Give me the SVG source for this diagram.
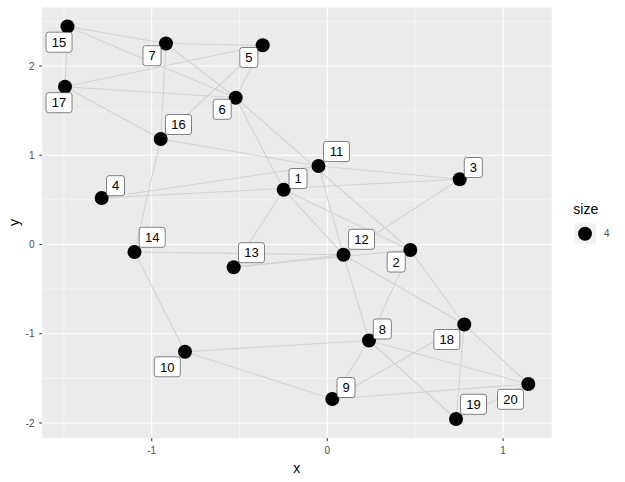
<svg xmlns="http://www.w3.org/2000/svg" width="625" height="482" viewBox="0 0 625 482">
<style>
.major{stroke:#ffffff;stroke-width:1.07;fill:none}
.minor{stroke:#ffffff;stroke-width:0.53;fill:none}
.tick{stroke:#333333;stroke-width:1.07}
.tl{font-family:"Liberation Sans",Arial,sans-serif;font-size:10px;fill:#4d4d4d}
.at{font-family:"Liberation Sans",Arial,sans-serif;font-size:14px;fill:#000000}
#edges line{stroke:#d3d3d3;stroke-width:1.1}
.pt{fill:#000000}
.lb rect{fill:#ffffff;stroke:#333333;stroke-width:0.6}
.lb text{font-family:"Liberation Sans",Arial,sans-serif;font-size:13px;fill:#000000;text-anchor:middle}
</style>
<rect x="0" y="0" width="625" height="482" fill="#ffffff"/>
<g id="panel">
<rect x="42" y="7.3" width="509.7" height="431" fill="#ebebeb"/>
<line class="minor" x1="42" y1="21.4" x2="551.7" y2="21.4"/>
<line class="minor" x1="42" y1="110.6" x2="551.7" y2="110.6"/>
<line class="minor" x1="42" y1="199.9" x2="551.7" y2="199.9"/>
<line class="minor" x1="42" y1="289.1" x2="551.7" y2="289.1"/>
<line class="minor" x1="42" y1="378.4" x2="551.7" y2="378.4"/>
<line class="minor" x1="63.9" y1="7.3" x2="63.9" y2="438.3"/>
<line class="minor" x1="239.5" y1="7.3" x2="239.5" y2="438.3"/>
<line class="minor" x1="415.2" y1="7.3" x2="415.2" y2="438.3"/>
<line class="major" x1="42" y1="66" x2="551.7" y2="66"/>
<line class="major" x1="42" y1="155.2" x2="551.7" y2="155.2"/>
<line class="major" x1="42" y1="244.5" x2="551.7" y2="244.5"/>
<line class="major" x1="42" y1="333.7" x2="551.7" y2="333.7"/>
<line class="major" x1="42" y1="423" x2="551.7" y2="423"/>
<line class="major" x1="151.7" y1="7.3" x2="151.7" y2="438.3"/>
<line class="major" x1="327.3" y1="7.3" x2="327.3" y2="438.3"/>
<line class="major" x1="503" y1="7.3" x2="503" y2="438.3"/>
</g>
<g id="axes">
<line class="tick" x1="39.3" y1="66" x2="42" y2="66"/>
<line class="tick" x1="39.3" y1="155.2" x2="42" y2="155.2"/>
<line class="tick" x1="39.3" y1="244.5" x2="42" y2="244.5"/>
<line class="tick" x1="39.3" y1="333.7" x2="42" y2="333.7"/>
<line class="tick" x1="39.3" y1="423" x2="42" y2="423"/>
<text class="tl" x="34.5" y="69.6" text-anchor="end">2</text>
<text class="tl" x="34.5" y="158.8" text-anchor="end">1</text>
<text class="tl" x="34.5" y="248.1" text-anchor="end">0</text>
<text class="tl" x="34.5" y="337.3" text-anchor="end">-1</text>
<text class="tl" x="34.5" y="426.6" text-anchor="end">-2</text>
<line class="tick" x1="151.7" y1="438.3" x2="151.7" y2="441"/>
<line class="tick" x1="327.3" y1="438.3" x2="327.3" y2="441"/>
<line class="tick" x1="503" y1="438.3" x2="503" y2="441"/>
<text class="tl" x="151.7" y="453.8" text-anchor="middle">-1</text>
<text class="tl" x="327.3" y="453.8" text-anchor="middle">0</text>
<text class="tl" x="503" y="453.8" text-anchor="middle">1</text>
<text class="at" x="296.8" y="472.5" text-anchor="middle">x</text>
<text class="at" x="0" y="0" text-anchor="middle" transform="translate(18.5,222.5) rotate(-90)">y</text>
</g>
<g id="edges">
<line x1="67.5" y1="26.5" x2="166" y2="43.5"/>
<line x1="67.5" y1="26.5" x2="65" y2="86.7"/>
<line x1="67.5" y1="26.5" x2="235.7" y2="97.7"/>
<line x1="65" y1="86.7" x2="262.7" y2="45.3"/>
<line x1="65" y1="86.7" x2="235.7" y2="97.7"/>
<line x1="65" y1="86.7" x2="160.7" y2="139"/>
<line x1="166" y1="43.5" x2="262.7" y2="45.3"/>
<line x1="166" y1="43.5" x2="235.7" y2="97.7"/>
<line x1="166" y1="43.5" x2="160.7" y2="139"/>
<line x1="160.7" y1="139" x2="262.7" y2="45.3"/>
<line x1="235.7" y1="97.7" x2="262.7" y2="45.3"/>
<line x1="235.7" y1="97.7" x2="283.7" y2="189.7"/>
<line x1="235.7" y1="97.7" x2="410.3" y2="250"/>
<line x1="160.7" y1="139" x2="318.5" y2="166"/>
<line x1="160.7" y1="139" x2="134.5" y2="252"/>
<line x1="318.5" y1="166" x2="459.7" y2="179.3"/>
<line x1="101.7" y1="198" x2="318.5" y2="166"/>
<line x1="101.7" y1="198" x2="459.7" y2="179.3"/>
<line x1="318.5" y1="166" x2="343.5" y2="254.8"/>
<line x1="283.7" y1="189.7" x2="343.5" y2="254.8"/>
<line x1="283.7" y1="189.7" x2="410.3" y2="250"/>
<line x1="283.7" y1="189.7" x2="233.7" y2="267.3"/>
<line x1="233.7" y1="267.3" x2="343.5" y2="254.8"/>
<line x1="233.7" y1="267.3" x2="410.3" y2="250"/>
<line x1="134.5" y1="252" x2="343.5" y2="254.8"/>
<line x1="459.7" y1="179.3" x2="343.5" y2="254.8"/>
<line x1="343.5" y1="254.8" x2="369" y2="340.5"/>
<line x1="410.3" y1="250" x2="369" y2="340.5"/>
<line x1="410.3" y1="250" x2="464.3" y2="324.5"/>
<line x1="343.5" y1="254.8" x2="464.3" y2="324.5"/>
<line x1="185" y1="351.7" x2="369" y2="340.5"/>
<line x1="369" y1="340.5" x2="528.3" y2="384"/>
<line x1="369" y1="340.5" x2="456" y2="419"/>
<line x1="369" y1="340.5" x2="332.3" y2="399"/>
<line x1="332.3" y1="399" x2="464.3" y2="324.5"/>
<line x1="332.3" y1="399" x2="528.3" y2="384"/>
<line x1="464.3" y1="324.5" x2="456" y2="419"/>
<line x1="464.3" y1="324.5" x2="528.3" y2="384"/>
<line x1="456" y1="419" x2="528.3" y2="384"/>
<line x1="134.5" y1="252" x2="185" y2="351.7"/>
<line x1="185" y1="351.7" x2="332.3" y2="399"/>
</g>
<g id="n1"><circle class="pt" cx="283.7" cy="189.7" r="7"/><g class="lb"><rect x="289" y="168.5" width="18" height="20" rx="2.5"/><text x="298" y="183.2">1</text></g></g>
<g id="n2"><circle class="pt" cx="410.3" cy="250" r="7"/><g class="lb"><rect x="387.2" y="252" width="18" height="20" rx="2.5"/><text x="396.2" y="266.7">2</text></g></g>
<g id="n3"><circle class="pt" cx="459.7" cy="179.3" r="7"/><g class="lb"><rect x="464.3" y="157.5" width="18" height="20" rx="2.5"/><text x="473.3" y="172.2">3</text></g></g>
<g id="n4"><circle class="pt" cx="101.7" cy="198" r="7"/><g class="lb"><rect x="106.5" y="175.7" width="18" height="20" rx="2.5"/><text x="115.5" y="190.4">4</text></g></g>
<g id="n5"><circle class="pt" cx="262.7" cy="45.3" r="7"/><g class="lb"><rect x="239.8" y="47.5" width="18" height="20" rx="2.5"/><text x="248.8" y="62.2">5</text></g></g>
<g id="n6"><circle class="pt" cx="235.7" cy="97.7" r="7"/><g class="lb"><rect x="213.2" y="99.3" width="18" height="20" rx="2.5"/><text x="222.2" y="114">6</text></g></g>
<g id="n7"><circle class="pt" cx="166" cy="43.5" r="7"/><g class="lb"><rect x="143" y="45.7" width="18" height="20" rx="2.5"/><text x="152" y="60.4">7</text></g></g>
<g id="n8"><circle class="pt" cx="369" cy="340.5" r="7"/><g class="lb"><rect x="373.3" y="319" width="18" height="20" rx="2.5"/><text x="382.3" y="333.7">8</text></g></g>
<g id="n9"><circle class="pt" cx="332.3" cy="399" r="7"/><g class="lb"><rect x="337" y="377.5" width="18" height="20" rx="2.5"/><text x="346" y="392.2">9</text></g></g>
<g id="n10"><circle class="pt" cx="185" cy="351.7" r="7"/><g class="lb"><rect x="154.3" y="356.8" width="26" height="20" rx="2.5"/><text x="167.3" y="371.5">10</text></g></g>
<g id="n11"><circle class="pt" cx="318.5" cy="166" r="7"/><g class="lb"><rect x="323.5" y="141.5" width="26" height="20" rx="2.5"/><text x="336.5" y="156.2">11</text></g></g>
<g id="n12"><circle class="pt" cx="343.5" cy="254.8" r="7"/><g class="lb"><rect x="348.5" y="229.3" width="26" height="20" rx="2.5"/><text x="361.5" y="244">12</text></g></g>
<g id="n13"><circle class="pt" cx="233.7" cy="267.3" r="7"/><g class="lb"><rect x="238.5" y="242.7" width="26" height="20" rx="2.5"/><text x="251.5" y="257.4">13</text></g></g>
<g id="n14"><circle class="pt" cx="134.5" cy="252" r="7"/><g class="lb"><rect x="139.2" y="227.3" width="26" height="20" rx="2.5"/><text x="152.2" y="242">14</text></g></g>
<g id="n15"><circle class="pt" cx="67.5" cy="26.5" r="7"/><g class="lb"><rect x="46" y="32.2" width="26" height="20" rx="2.5"/><text x="59" y="46.9">15</text></g></g>
<g id="n16"><circle class="pt" cx="160.7" cy="139" r="7"/><g class="lb"><rect x="165.5" y="114.5" width="26" height="20" rx="2.5"/><text x="178.5" y="129.2">16</text></g></g>
<g id="n17"><circle class="pt" cx="65" cy="86.7" r="7"/><g class="lb"><rect x="46" y="92.7" width="26" height="20" rx="2.5"/><text x="59" y="107.4">17</text></g></g>
<g id="n18"><circle class="pt" cx="464.3" cy="324.5" r="7"/><g class="lb"><rect x="433.8" y="329.5" width="26" height="20" rx="2.5"/><text x="446.8" y="344.2">18</text></g></g>
<g id="n19"><circle class="pt" cx="456" cy="419" r="7"/><g class="lb"><rect x="460.5" y="394.3" width="26" height="20" rx="2.5"/><text x="473.5" y="409">19</text></g></g>
<g id="n20"><circle class="pt" cx="528.3" cy="384" r="7"/><g class="lb"><rect x="497.5" y="389.3" width="26" height="20" rx="2.5"/><text x="510.5" y="404">20</text></g></g>
<g id="legend">
<text class="at" x="573.3" y="214">size</text>
<rect x="574" y="223.3" width="22" height="21" fill="#f2f2f2"/>
<circle class="pt" cx="585" cy="233.8" r="7"/>
<text class="tl" x="604" y="237.3">4</text>
</g>
</svg>
